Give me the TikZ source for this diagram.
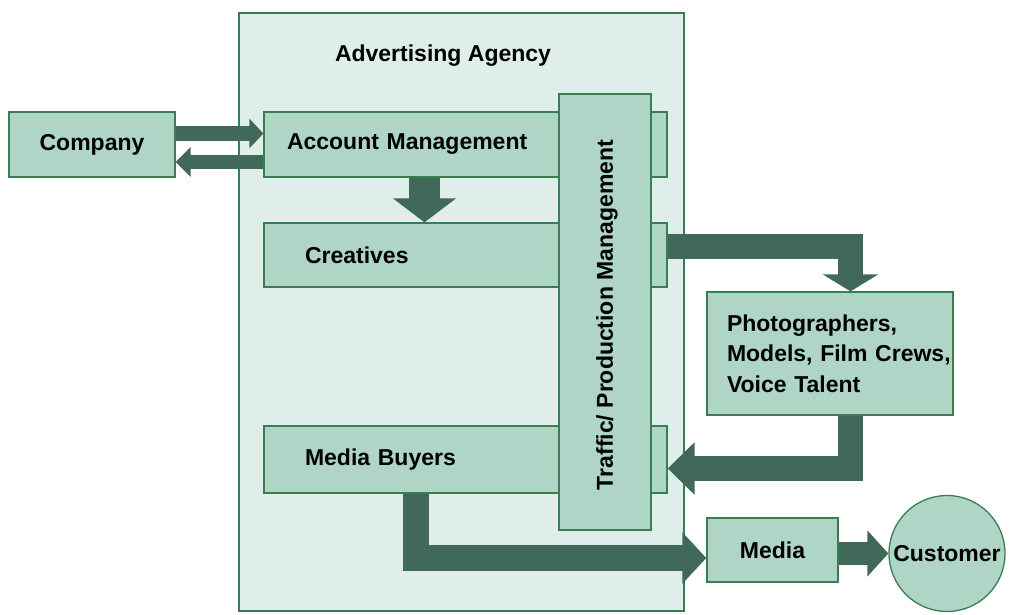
\documentclass[tikz,border=0pt]{standalone}
\usepackage{fontspec}
\setmainfont{Liberation Sans}
\usetikzlibrary{positioning,arrows.meta,calc}

\definecolor{boxgreen}{HTML}{AFD5C6}
\definecolor{edgegreen}{HTML}{3A7D52}
\definecolor{agencygreen}{HTML}{DFEEEA}
\definecolor{flowgreen}{HTML}{40695A}

\begin{document}
\begin{tikzpicture}[
        x=1pt, y=-1pt,
        font=\fontsize{23}{30.5}\selectfont\bfseries,
        unit/.style={
            draw=edgegreen,
            fill=boxgreen,
            line width=1.3pt,
            inner sep=0pt
        },
        rowbox/.style={
            unit,
            minimum width=403pt,
            align=left,
            inner xsep=41pt,
            text width=321pt
        },
        flow/.style={draw=flowgreen, line join=miter}
    ]
    \useasboundingbox (0,0) rectangle (1023,615);

    % agency frame
    \node[
        draw=edgegreen,
        fill=agencygreen,
        line width=1.3pt,
        minimum width=445pt,
        minimum height=598pt
    ] (agency) at (461.5,312) {};
    \node (agencytitle) at (443,56) {Advertising Agency};

    % outside parties
    \node[unit, minimum width=166pt, minimum height=65pt] (company) at (92,144.5) {Company};

    % departments
    \node[rowbox, minimum height=65pt, inner xsep=23pt, text width=357pt] (account) at (465.5,144.5) {Account Management};
    \node[rowbox, minimum height=64pt] (creatives) at (465.5,255) {Creatives};
    \node[rowbox, minimum height=67pt] (buyers) at (465.5,459.5) {Media Buyers};

    \node[unit, minimum width=92pt, minimum height=436pt] (traffic) at (605,312) {};
    \node[rotate=90] (traffictext) at (607,315) {Traffic/ Production Management};

    % production and media
    \node[unit, minimum width=246pt, minimum height=123pt, align=left,
          inner xsep=20pt, text width=206pt] (crew) at (830,353.5)
        {\mbox{Photographers,}\\\mbox{Models, Film Crews,}\\\mbox{Voice Talent}};
    \node[unit, minimum width=131pt, minimum height=64pt] (media) at (772.5,550) {Media};
    \node[unit, circle, minimum size=116pt] (customer) at (947,553.5) {Customer};

    % block arrows
    \draw[flow, line width=15pt, -{Triangle[width=29pt,length=14pt]}]
        ([yshift=11pt]company.east) -- ([yshift=11pt]account.west);
    \draw[flow, line width=14pt, -{Triangle[width=29pt,length=15pt]}]
        ([yshift=-17.5pt]account.west) -- ([yshift=-17.5pt]company.east);
    \draw[flow, line width=31pt, -{Triangle[width=62pt,length=24pt]}]
        ([xshift=-41pt]account.south) -- ([xshift=-41pt]creatives.north);
    \draw[flow, line width=25pt, -{Triangle[width=55pt,length=17pt]}]
        ([yshift=8.5pt]creatives.east) -| ([xshift=20.5pt]crew.north);
    \draw[flow, line width=25pt, -{Triangle[width=51pt,length=27pt]}]
        ([xshift=20.5pt]crew.south) |- ([yshift=-9pt]buyers.east);
    \draw[flow, line width=26pt, -{Triangle[width=50pt,length=24pt]}]
        ([xshift=-49.5pt]buyers.south) |- ([yshift=-8pt]media.west);
    \draw[flow, line width=23pt, -{Triangle[width=45pt,length=21pt]}]
        (media.east |- customer.west) -- (customer.west);

\end{tikzpicture}
\end{document}
